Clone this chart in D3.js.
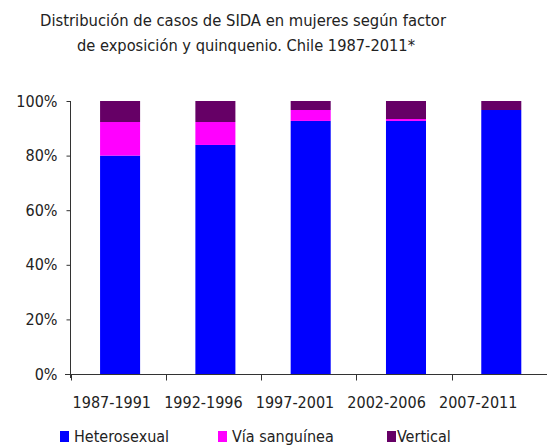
<!DOCTYPE html>
<html>
<head>
<meta charset="utf-8">
<script src="https://cdn.jsdelivr.net/npm/d3@7"></script>
<style>
  body { margin: 0; background: #fff; }
  text { font-family: "DejaVu Sans Condensed", "DejaVu Sans", sans-serif; fill: #222; }
</style>
</head>
<body>
<div id="chart"></div>
<script>
// periods (quinquenios)
const periods = ["1987-1991", "1992-1996", "1997-2001", "2002-2006", "2007-2011"];
// percent share per exposure factor
const heterosexual = [80.0, 83.9, 92.7, 92.7, 96.7];
const viaSanguinea = [12.3, 8.4, 4.0, 0.7, 0.0];
const vertical = [7.7, 7.7, 3.3, 6.6, 3.3];
const seriesNames = ["Heterosexual", "Vía sanguínea", "Vertical"];
const seriesColors = ["#0000ff", "#ff00ff", "#660066"];
const yTicks = [0, 20, 40, 60, 80, 100];

const width = 547, height = 446;

const svg = d3.select("#chart").append("svg")
  .attr("width", width)
  .attr("height", height);

// build table for stacking
const rows = periods.map((p, i) => ({
  period: p,
  "Heterosexual": heterosexual[i],
  "Vía sanguínea": viaSanguinea[i],
  "Vertical": vertical[i]
}));
const stacked = d3.stack().keys(seriesNames)(rows);

const x = d3.scaleBand().domain(periods).range([70.5, 547])
  .paddingInner(0.58).paddingOuter(0.29).align(0.535);
const xCat = d3.scaleBand().domain(periods).range([70.5, 547]);
// labels sit a little to the left in the original
const xLabel = d3.scaleBand().domain(periods).range([66, 524]);
const y = d3.scaleLinear().domain([0, 100]).range([374, 101]);
const color = d3.scaleOrdinal().domain(seriesNames).range(seriesColors);

// title
const title = svg.append("g");
title.append("text")
  .attr("x", 243).attr("y", 26)
  .attr("text-anchor", "middle")
  .attr("textLength", 406).attr("lengthAdjust", "spacingAndGlyphs")
  .style("font-size", "15.5px")
  .text("Distribución de casos de SIDA en mujeres  según factor");
title.append("text")
  .attr("x", 246).attr("y", 51)
  .attr("text-anchor", "middle")
  .attr("textLength", 338).attr("lengthAdjust", "spacingAndGlyphs")
  .style("font-size", "15.5px")
  .text("de exposición y quinquenio. Chile 1987-2011*");

// bars
svg.append("g").selectAll("g")
  .data(stacked)
  .enter().append("g")
  .attr("fill", d => color(d.key))
  .selectAll("rect")
  .data(d => d)
  .enter().append("rect")
  .attr("x", d => x(d.data.period))
  .attr("width", x.bandwidth())
  .attr("y", d => y(d[1]))
  .attr("height", d => y(d[0]) - y(d[1]));

// y axis
const yAxis = svg.append("g").attr("transform", "translate(70.5,0)")
  .call(d3.axisLeft(y).tickValues(yTicks).tickFormat(d => d + "%").tickSize(4).tickSizeOuter(0));
yAxis.select(".domain").attr("stroke", "#333").attr("d", "M0," + y(100) + "V378");
yAxis.selectAll(".tick line").attr("stroke", "#333");
yAxis.selectAll(".tick text").attr("x", -13).style("font-size", "16px").attr("fill", "#222");

// x axis
const xAxis = svg.append("g").attr("transform", "translate(0," + (y(0) + 0.5) + ")");
xAxis.append("line").attr("x1", 65).attr("x2", 547).attr("stroke", "#333");
xAxis.selectAll(".cat-tick")
  .data(periods)
  .enter().append("line")
  .attr("class", "cat-tick")
  .attr("x1", d => Math.round(xCat(d)) + 0.5)
  .attr("x2", d => Math.round(xCat(d)) + 0.5)
  .attr("y1", 0).attr("y2", 6)
  .attr("stroke", "#333");
xAxis.selectAll(".cat-label")
  .data(periods)
  .enter().append("text")
  .attr("class", "cat-label")
  .attr("x", d => xLabel(d) + xLabel.bandwidth() / 2)
  .attr("y", 33)
  .attr("text-anchor", "middle")
  .style("font-size", "16px")
  .text(d => d);

// legend
const legendX = [60, 218, 387];
const legend = svg.append("g").selectAll("g")
  .data(seriesNames)
  .enter().append("g")
  .attr("transform", (d, i) => "translate(" + legendX[i] + ",431)");
legend.append("rect")
  .attr("width", 9).attr("height", 11)
  .attr("fill", d => color(d));
legend.append("text")
  .attr("x", d => d === "Vertical" ? 10 : 14)
  .attr("y", 11)
  .style("font-size", "16px")
  .text(d => d);
</script>
</body>
</html>
